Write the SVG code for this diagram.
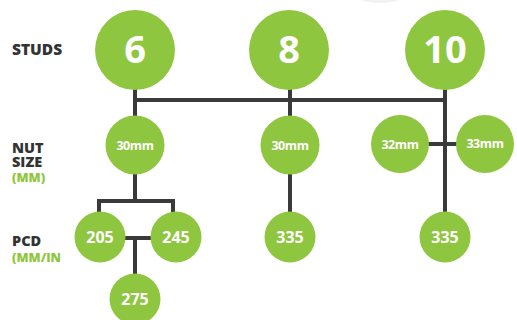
<svg xmlns="http://www.w3.org/2000/svg" width="517" height="320" viewBox="0 0 517 320">
<style>
.c{fill:#8fc63f}
.ln{stroke:#3a3a3a;stroke-width:4;fill:none;stroke-linecap:butt}
.big{font-family:"Open Sans","Liberation Sans",sans-serif;font-weight:700;font-size:38px;fill:#fff;text-anchor:middle}
.mm{font-family:"Open Sans","Liberation Sans",sans-serif;font-weight:700;font-size:12.5px;fill:#fff;text-anchor:middle;letter-spacing:-0.4px}
.pc{font-family:"Open Sans","Liberation Sans",sans-serif;font-weight:700;font-size:16px;fill:#fff;text-anchor:middle}
.lb{font-family:"Open Sans","Liberation Sans",sans-serif;font-weight:800;font-size:15.5px;fill:#333}
.ls{font-family:"Open Sans","Liberation Sans",sans-serif;font-weight:800;font-size:14.5px;fill:#333}
.lg{font-family:"Open Sans","Liberation Sans",sans-serif;font-weight:800;font-size:12.5px;fill:#8fc63f}
</style>
<rect width="517" height="320" fill="#fff"/>
<ellipse cx="380" cy="-9" rx="30" ry="12" fill="#f2f2f2"/>
<g id="labels">
<text class="lb" x="12" y="55">STUDS</text>
<text class="ls" x="12" y="153">NUT</text>
<text class="ls" x="12" y="167">SIZE</text>
<text class="lg" x="12" y="182">(MM)</text>
<text class="ls" x="12" y="246">PCD</text>
<text class="lg" x="12" y="262">(MM/IN</text>
</g>
<g id="connectors">
<path class="ln" d="M135 88V117M135 100H445M290 88V117M445 88V214M428 144H457"/>
<path class="ln" d="M290 172V214"/>
<path class="ln" d="M135 172V201M99 201H173M99 199V214M173 199V214M124 238H152M135 238V276"/>
</g>
<g id="n6"><circle class="c" cx="135" cy="50" r="40"/><text class="big" x="135" y="63">6</text></g>
<g id="n8"><circle class="c" cx="289" cy="50" r="40"/><text class="big" x="289" y="63">8</text></g>
<g id="n10"><circle class="c" cx="445" cy="50" r="40"/><text class="big" x="445" y="63">10</text></g>
<g id="nut6"><circle class="c" cx="135" cy="145" r="29.5"/><text class="mm" x="135" y="150">30mm</text></g>
<g id="nut8"><circle class="c" cx="290" cy="145" r="29.5"/><text class="mm" x="290" y="150">30mm</text></g>
<g id="nut10a"><circle class="c" cx="400" cy="144" r="29"/><text class="mm" x="400" y="149">32mm</text></g>
<g id="nut10b"><circle class="c" cx="485" cy="144" r="29"/><text class="mm" x="485" y="148">33mm</text></g>
<g id="p205"><circle class="c" cx="100" cy="237" r="25.5"/><text class="pc" x="100" y="243">205</text></g>
<g id="p245"><circle class="c" cx="176" cy="237" r="25.5"/><text class="pc" x="176" y="243">245</text></g>
<g id="p275"><circle class="c" cx="135" cy="299" r="25.5"/><text class="pc" x="135" y="305">275</text></g>
<g id="p335a"><circle class="c" cx="290" cy="237" r="25.5"/><text class="pc" x="290" y="243">335</text></g>
<g id="p335b"><circle class="c" cx="445" cy="237" r="25.5"/><text class="pc" x="445" y="243">335</text></g>
</svg>
